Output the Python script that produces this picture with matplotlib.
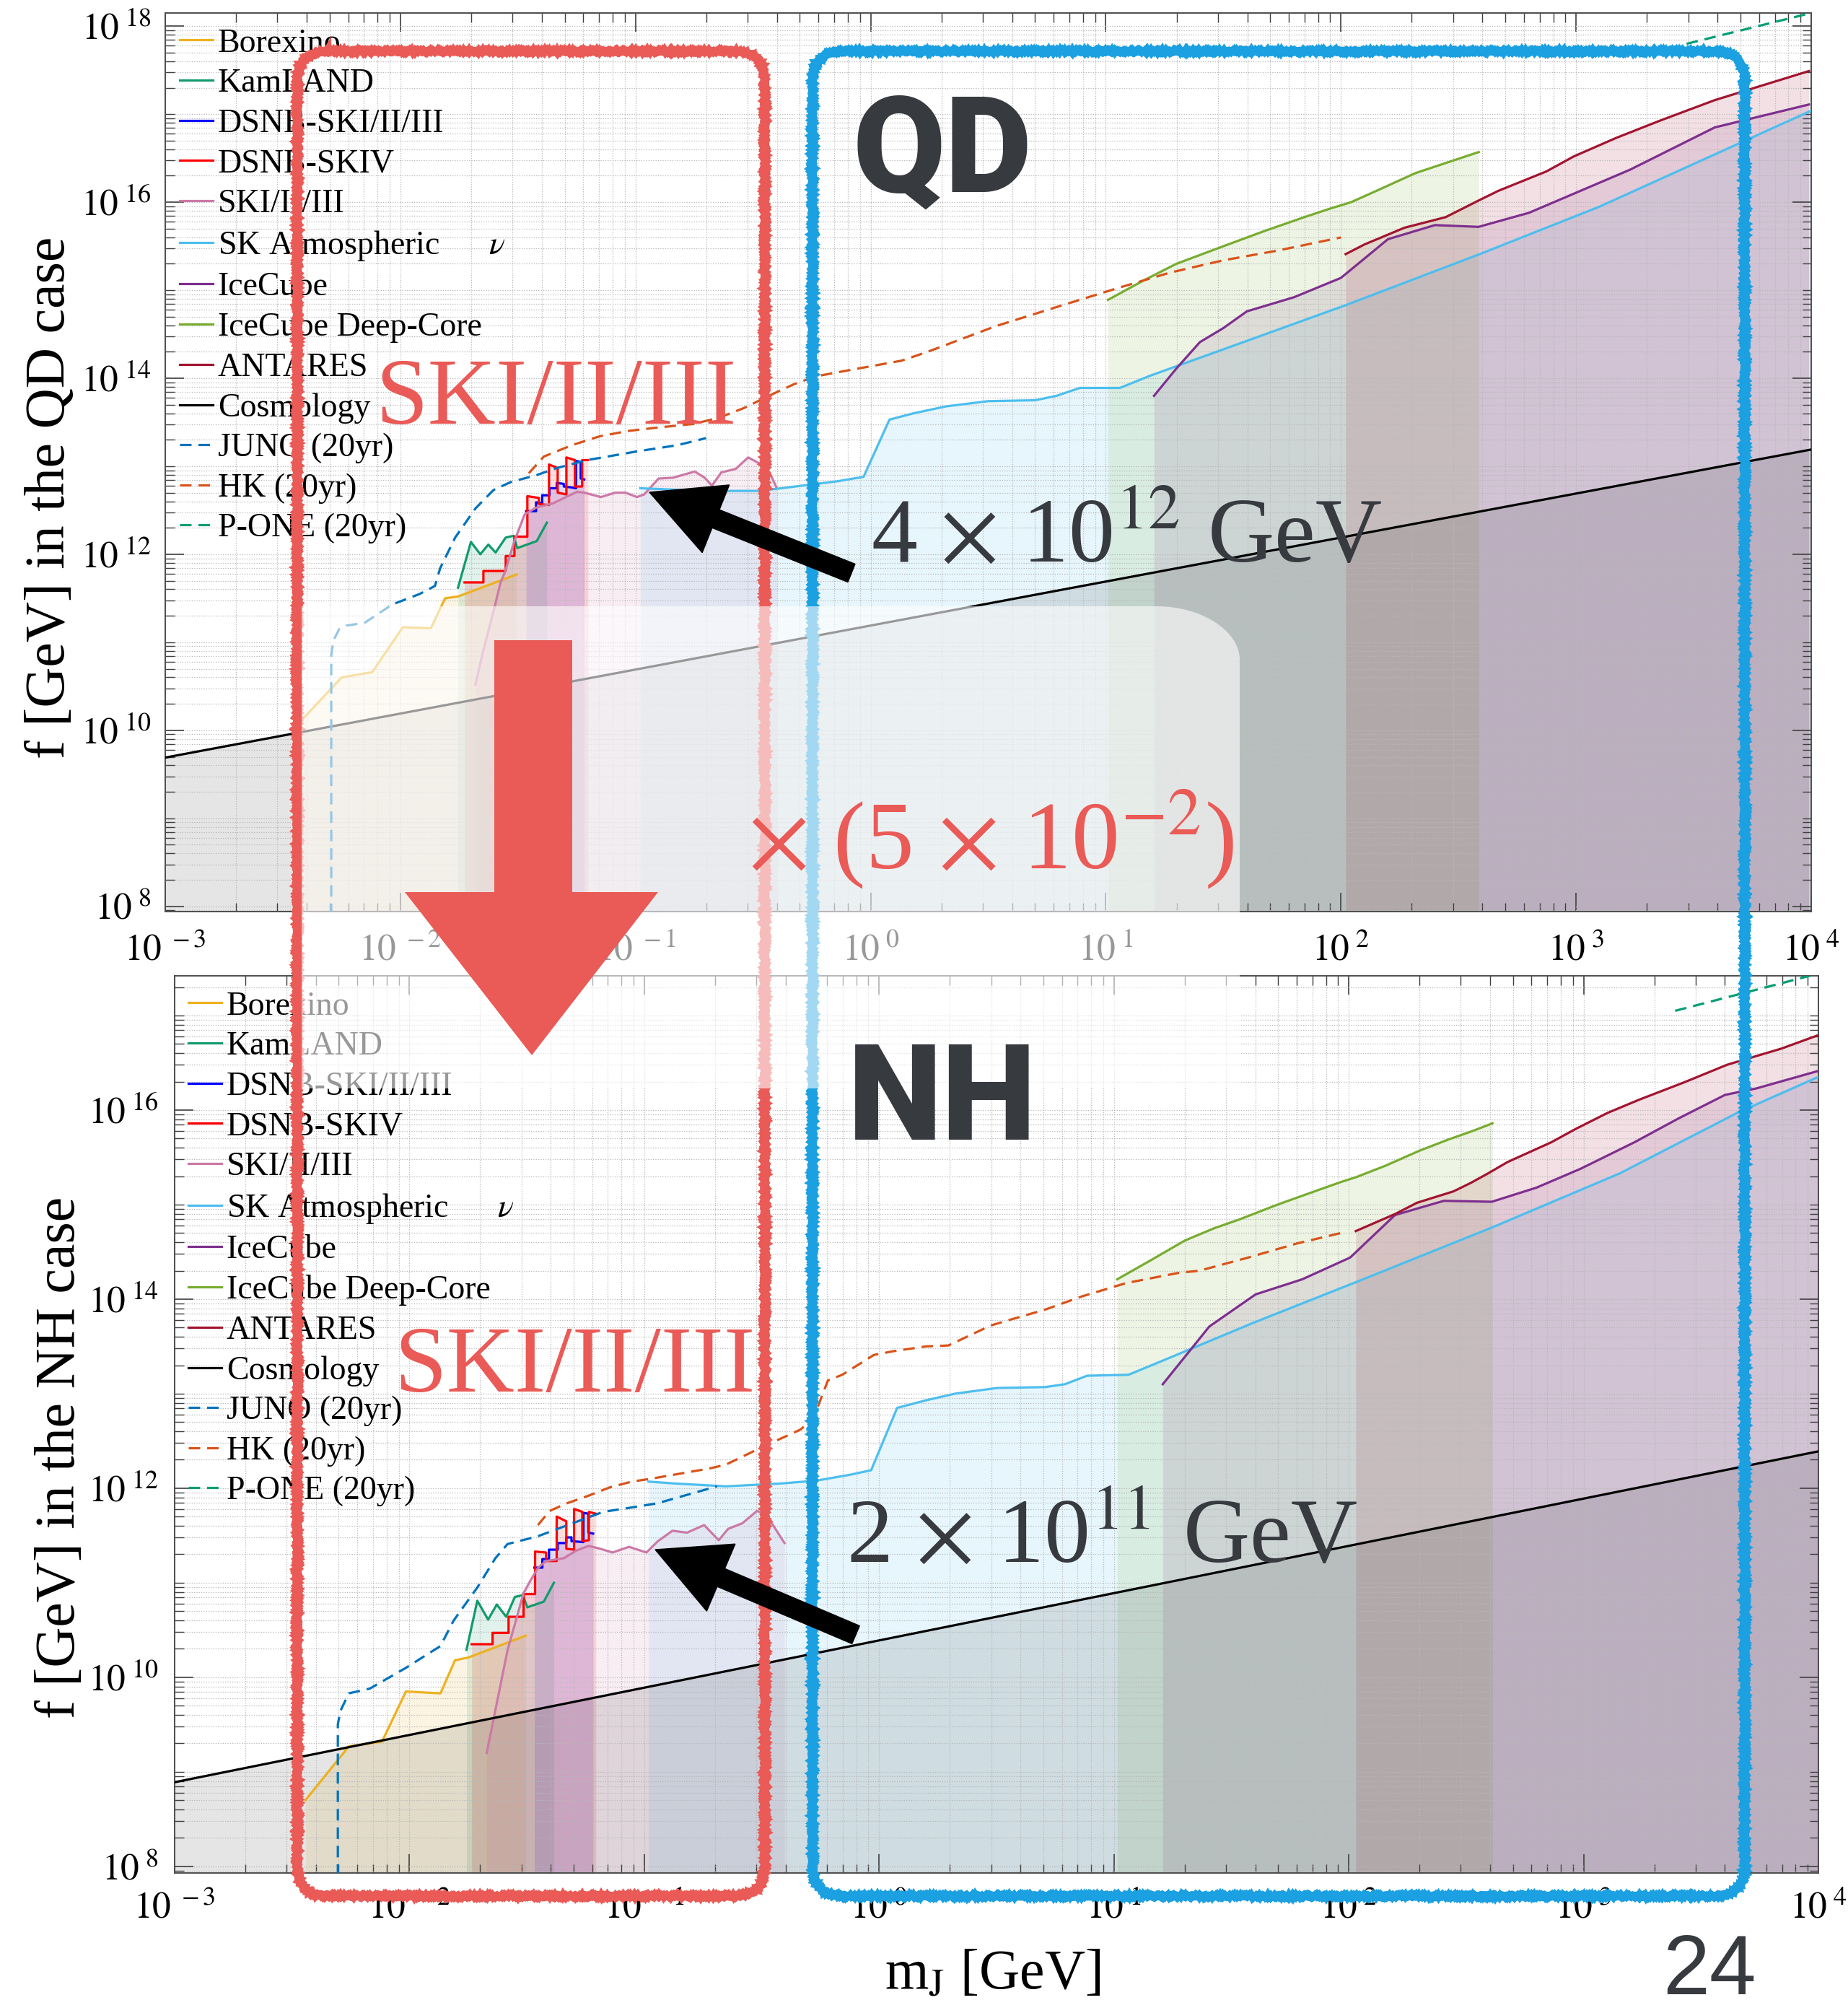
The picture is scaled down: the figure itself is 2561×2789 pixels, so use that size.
"""
Bounds on the decay constant f vs m_J, QD (top) and NH (bottom) cases, slide version.
"""
import numpy as np
import matplotlib.pyplot as plt
from matplotlib.patches import FancyBboxPatch, Polygon, FancyArrow, PathPatch
from matplotlib.path import Path
from matplotlib.transforms import Affine2D
from matplotlib.ticker import FixedLocator, FuncFormatter, NullFormatter

W, H = 2561, 2789

# ---------------------------------------------------------------------------
# data: log10(m_J / GeV) and log10(f / GeV)
# ---------------------------------------------------------------------------
# QD case (top panel)
borexino_qd_m = [-2.45, -2.25, -2.12, -1.99, -1.87, -1.81, -1.755, -1.506]
borexino_qd_f = [10.03, 10.60, 10.66, 11.17, 11.16, 11.50, 11.52, 11.77]
kamland_qd_m = [-1.755, -1.70, -1.66, -1.626, -1.595, -1.552, -1.518, -1.503, -1.42, -1.377]
kamland_qd_f = [11.62, 12.14, 12.00, 12.11, 12.02, 12.19, 12.21, 12.07, 12.15, 12.36]
dsnb123_qd_m = [-1.465, -1.423, -1.423, -1.397, -1.397, -1.366, -1.366, -1.335, -1.335, -1.305,
                -1.305, -1.274, -1.253, -1.253, -1.233, -1.233, -1.218]
dsnb123_qd_f = [12.49, 12.49, 12.59, 12.58, 12.67, 12.67, 12.75, 12.75, 12.81, 12.80,
                12.77, 12.76, 12.75, 13.06, 13.05, 12.86, 12.85]
dsnb4_qd_m = [-1.727, -1.647, -1.647, -1.552, -1.552, -1.515, -1.515, -1.46, -1.46, -1.411, -1.411,
              -1.368, -1.368, -1.331, -1.331, -1.294, -1.294, -1.258, -1.258, -1.227, -1.227, -1.202]
dsnb4_qd_f = [11.68, 11.68, 11.81, 11.81, 11.98, 11.98, 12.20, 12.20, 12.66, 12.64, 12.57,
              12.56, 13.02, 12.98, 12.70, 12.68, 13.10, 13.07, 12.77, 12.77, 13.07, 13.07]
ski_qd_m = [-1.681, -1.647, -1.604, -1.574, -1.555, -1.515, -1.472, -1.423, -1.35, -1.288, -1.248,
            -1.218, -1.147, -1.086, -1.043, -0.994, -0.963, -0.902, -0.84, -0.748, -0.706, -0.675,
            -0.635, -0.574, -0.521, -0.472, -0.43, -0.399]
ski_qd_f = [10.52, 10.91, 11.35, 11.68, 11.80, 12.15, 12.45, 12.53, 12.58, 12.66, 12.71,
            12.70, 12.65, 12.70, 12.70, 12.65, 12.68, 12.86, 12.87, 12.94, 12.87, 12.78,
            12.93, 12.97, 13.10, 13.03, 12.93, 12.75]
skatm_qd_m = [-0.98, -0.70, -0.48, -0.38, -0.26, -0.14, -0.03, 0.08, 0.18, 0.32, 0.50, 0.70,
              0.79, 0.89, 1.06, 1.19, 1.45, 2.02, 2.59, 3.10, 4.0]
skatm_qd_f = [12.75, 12.72, 12.72, 12.75, 12.79, 12.83, 12.88, 13.53, 13.60, 13.68, 13.74, 13.75,
              13.80, 13.89, 13.89, 14.03, 14.28, 14.83, 15.41, 15.95, 17.04]
icecube_qd_m = [1.205, 1.30, 1.40, 1.50, 1.60, 1.80, 2.0, 2.20, 2.40, 2.585, 2.80, 3.23, 3.59, 3.99]
icecube_qd_f = [13.80, 14.11, 14.41, 14.57, 14.76, 14.92, 15.14, 15.58, 15.74, 15.72, 15.88, 16.37,
                16.85, 17.11]
deepcore_qd_m = [1.009, 1.16, 1.30, 1.50, 1.672, 1.844, 1.957, 2.043, 2.16, 2.316, 2.586]
deepcore_qd_f = [14.89, 15.11, 15.30, 15.50, 15.67, 15.83, 15.93, 16.00, 16.14, 16.33, 16.57]
antares_qd_m = [2.02, 2.10, 2.27, 2.445, 2.586, 2.67, 2.874, 2.99, 3.17, 3.36, 3.59, 3.99]
antares_qd_f = [15.41, 15.52, 15.71, 15.83, 16.02, 16.13, 16.35, 16.52, 16.73, 16.93, 17.16, 17.49]
cosmo_qd_m = [-3.0, 4.0]
cosmo_qd_f = [9.69, 13.19]
juno_qd_m = [-2.294, -2.294, -2.285, -2.26, -2.23, -2.153, -2.034, -1.917, -1.853, -1.831, -1.767,
             -1.681, -1.604, -1.531, -1.42, -1.334, -1.206, -1.12, -0.991, -0.82, -0.70]
juno_qd_f = [7.9, 10.85, 11.02, 11.15, 11.19, 11.22, 11.43, 11.55, 11.64, 11.84, 12.19,
             12.52, 12.73, 12.82, 12.90, 12.98, 13.07, 13.11, 13.17, 13.24, 13.32]
hk_qd_m = [-1.454, -1.39, -1.27, -1.153, -1.034, -0.905, -0.755, -0.647, -0.54, -0.433, -0.328,
           -0.236, -0.074, 0.132, 0.242, 0.53, 0.816, 1.058, 1.273, 1.50, 1.73, 2.0]
hk_qd_f = [12.92, 13.11, 13.24, 13.34, 13.40, 13.44, 13.48, 13.55, 13.66, 13.80, 13.93,
           14.02, 14.10, 14.20, 14.30, 14.59, 14.83, 15.03, 15.20, 15.34, 15.45, 15.60]
pone_qd_m = [3.47, 4.0]
pone_qd_f = [17.80, 18.15]

# NH case (bottom panel)
borexino_nh_m = [-2.443, -2.258, -2.117, -2.015, -1.868, -1.806, -1.748, -1.505]
borexino_nh_f = [8.70, 9.27, 9.32, 9.85, 9.83, 10.18, 10.21, 10.44]
kamland_nh_m = [-1.757, -1.711, -1.665, -1.628, -1.588, -1.551, -1.517, -1.498, -1.428, -1.385]
kamland_nh_f = [10.29, 10.81, 10.61, 10.77, 10.64, 10.85, 10.87, 10.74, 10.80, 11.00]
dsnb123_nh_m = [-1.468, -1.434, -1.434, -1.406, -1.406, -1.369, -1.369, -1.332, -1.332, -1.31,
                -1.31, -1.259, -1.259, -1.238, -1.238, -1.218]
dsnb123_nh_f = [11.16, 11.16, 11.25, 11.25, 11.35, 11.35, 11.42, 11.42, 11.48, 11.48,
                11.44, 11.43, 11.74, 11.73, 11.53, 11.52]
dsnb4_nh_m = [-1.735, -1.646, -1.646, -1.578, -1.578, -1.514, -1.514, -1.465, -1.465, -1.418, -1.418,
              -1.373, -1.373, -1.332, -1.332, -1.299, -1.299, -1.264, -1.264, -1.236, -1.236, -1.206]
dsnb4_nh_f = [10.35, 10.35, 10.47, 10.47, 10.64, 10.64, 10.88, 10.88, 11.33, 11.32, 11.23,
              11.23, 11.70, 11.65, 11.36, 11.35, 11.78, 11.75, 11.44, 11.45, 11.75, 11.73]
ski_nh_m = [-1.671, -1.582, -1.514, -1.483, -1.452, -1.418, -1.342, -1.29, -1.237, -1.188, -1.135,
            -1.065, -0.991, -0.942, -0.88, -0.818, -0.745, -0.683, -0.643, -0.582, -0.52, -0.48,
            -0.403]
ski_nh_f = [9.20, 10.29, 10.89, 11.03, 11.16, 11.23, 11.26, 11.34, 11.39, 11.36, 11.32,
            11.38, 11.32, 11.44, 11.55, 11.53, 11.61, 11.45, 11.57, 11.63, 11.76, 11.72,
            11.42]
skatm_nh_m = [-0.982, -0.871, -0.652, -0.418, -0.268, -0.129, -0.034, 0.077, 0.2, 0.323, 0.502,
              0.708, 0.791, 0.886, 1.062, 1.218, 1.594, 2.031, 2.612, 3.154, 3.654, 4.008]
skatm_nh_f = [12.07, 12.05, 12.02, 12.05, 12.08, 12.14, 12.19, 12.85, 12.93, 13.00, 13.06,
              13.07, 13.10, 13.19, 13.20, 13.36, 13.75, 14.18, 14.76, 15.33, 15.97, 16.36]
icecube_nh_m = [1.208, 1.406, 1.603, 1.802, 2.006, 2.197, 2.405, 2.609, 2.8, 2.988, 3.217, 3.403,
                3.602, 3.737, 4.008]
icecube_nh_f = [13.10, 13.71, 14.05, 14.21, 14.44, 14.89, 15.04, 15.03, 15.18, 15.38, 15.66, 15.91,
                16.16, 16.23, 16.42]
deepcore_nh_m = [1.014, 1.156, 1.302, 1.427, 1.531, 1.697, 1.843, 1.968, 2.031, 2.155, 2.301,
                 2.426, 2.529, 2.612]
deepcore_nh_f = [14.21, 14.41, 14.62, 14.75, 14.84, 15.00, 15.13, 15.24, 15.29, 15.41, 15.57,
                 15.69, 15.78, 15.86]
antares_nh_m = [2.03, 2.197, 2.291, 2.446, 2.52, 2.593, 2.676, 2.863, 2.966, 3.102, 3.237, 3.425,
                3.612, 3.842, 4.008]
antares_nh_f = [14.72, 14.90, 15.02, 15.14, 15.23, 15.33, 15.45, 15.66, 15.80, 15.97, 16.11, 16.29,
                16.48, 16.65, 16.80]
cosmo_nh_m = [-3.0, 4.0]
cosmo_nh_f = [8.89, 12.39]
juno_nh_m = [-2.305, -2.305, -2.295, -2.258, -2.169, -2.015, -1.926, -1.868, -1.812, -1.711,
             -1.634, -1.582, -1.455, -1.326, -1.175, -1.07, -0.945, -0.69]
juno_nh_f = [7.9, 9.5, 9.64, 9.83, 9.88, 10.10, 10.24, 10.33, 10.60, 10.95,
             11.26, 11.41, 11.49, 11.61, 11.75, 11.79, 11.84, 12.02]
hk_nh_m = [-1.453, -1.403, -1.33, -1.238, -1.146, -1.053, -0.972, -0.72, -0.652, -0.502, -0.335,
           -0.28, -0.218, -0.157, -0.022, 0.062, 0.2, 0.295, 0.338, 0.474, 0.569, 0.708, 0.865,
           1.052, 1.28, 1.363, 1.572, 1.781, 1.968]
hk_nh_f = [11.61, 11.76, 11.84, 11.92, 12.01, 12.07, 12.10, 12.21, 12.25, 12.43, 12.62,
           12.74, 13.14, 13.20, 13.41, 13.45, 13.50, 13.51, 13.56, 13.72, 13.79, 13.89, 14.03,
           14.17, 14.28, 14.30, 14.44, 14.59, 14.70]
pone_nh_m = [3.39, 4.01]
pone_nh_f = [17.05, 17.45]

labels = ['Borexino', 'KamLAND', 'DSNB-SKI/II/III', 'DSNB-SKIV', 'SKI/II/III',
          'SK Atmospheric      $\\nu$', 'IceCube', 'IceCube Deep-Core', 'ANTARES', 'Cosmology',
          'JUNO (20yr)', 'HK (20yr)', 'P-ONE (20yr)']

curves_qd = [(borexino_qd_m, borexino_qd_f), (kamland_qd_m, kamland_qd_f),
             (dsnb123_qd_m, dsnb123_qd_f), (dsnb4_qd_m, dsnb4_qd_f), (ski_qd_m, ski_qd_f),
             (skatm_qd_m, skatm_qd_f), (icecube_qd_m, icecube_qd_f), (deepcore_qd_m, deepcore_qd_f),
             (antares_qd_m, antares_qd_f), (cosmo_qd_m, cosmo_qd_f), (juno_qd_m, juno_qd_f),
             (hk_qd_m, hk_qd_f), (pone_qd_m, pone_qd_f)]
curves_nh = [(borexino_nh_m, borexino_nh_f), (kamland_nh_m, kamland_nh_f),
             (dsnb123_nh_m, dsnb123_nh_f), (dsnb4_nh_m, dsnb4_nh_f), (ski_nh_m, ski_nh_f),
             (skatm_nh_m, skatm_nh_f), (icecube_nh_m, icecube_nh_f), (deepcore_nh_m, deepcore_nh_f),
             (antares_nh_m, antares_nh_f), (cosmo_nh_m, cosmo_nh_f), (juno_nh_m, juno_nh_f),
             (hk_nh_m, hk_nh_f), (pone_nh_m, pone_nh_f)]

colors = ['#EDB120', '#129B6C', '#0000FF', '#FF0000', '#CC79A7', '#4DBEEE', '#7E2F8E',
          '#77AC30', '#A2142F', '#000000', '#0072BD', '#D95319', '#009E73']
dashed = [False] * 10 + [True] * 3

RED = '#EA5A56'
BLUE = '#1BA0E2'
CHARCOAL = '#373A3F'


def pow_label(v, pos):
    return r'$10^{\ %d}$' % int(round(np.log10(v)))


def draw_panel(ax, curves, ylim, anchor, xpad, ypad):
    handles = []
    for (lm, lf), color, dash in zip(curves, colors, dashed):
        m = 10.0 ** np.array(lm)
        f = 10.0 ** np.array(lf)
        if not dash:
            a = 0.10 if color == '#000000' else 0.13
            ax.fill_between(m, f, 1e5, color=color, alpha=a, linewidth=0, zorder=1)
        ls = (0, (5, 3)) if dash else '-'
        line, = ax.plot(m, f, color=color, linestyle=ls, linewidth=2.3, zorder=3)
        handles.append(line)

    ax.set_xscale('log')
    ax.set_yscale('log')
    ax.set_xlim(1e-3, 1e4)
    ax.set_ylim(*ylim)

    ax.xaxis.set_major_locator(FixedLocator(10.0 ** np.arange(-3, 5)))
    ax.xaxis.set_minor_locator(FixedLocator([k * 10.0 ** e for e in range(-3, 4) for k in range(2, 10)]))
    ax.yaxis.set_major_locator(FixedLocator(10.0 ** np.arange(8, 19, 2)))
    ax.yaxis.set_minor_locator(FixedLocator([k * 10.0 ** e for e in range(7, 19) for k in range(1, 10)
                                             if not (k == 1 and e % 2 == 0)]))
    ax.xaxis.set_major_formatter(FuncFormatter(pow_label))
    ax.yaxis.set_major_formatter(FuncFormatter(pow_label))
    ax.xaxis.set_minor_formatter(NullFormatter())
    ax.yaxis.set_minor_formatter(NullFormatter())

    ax.tick_params(which='both', direction='in', top=True, right=True, colors='0.25', labelcolor='k')
    ax.tick_params(which='major', length=19, width=1.2, labelsize=37)
    ax.tick_params(which='minor', length=9, width=1.0)
    ax.tick_params(axis='x', pad=xpad)
    ax.tick_params(axis='y', pad=ypad)
    ax.grid(True, which='both', linestyle=':', color='0.72', linewidth=0.9)
    for sp in ax.spines.values():
        sp.set_color('0.3')
        sp.set_linewidth(1.4)

    ax.legend(handles, labels, loc='upper left', bbox_to_anchor=anchor, frameon=False,
              fontsize=33, handlelength=1.0, handletextpad=0.15, labelspacing=0.285,
              borderaxespad=0, borderpad=0)


def main():
    plt.rcParams['font.family'] = ['Liberation Serif', 'DejaVu Serif']
    plt.rcParams['mathtext.fontset'] = 'stix'

    fig = plt.figure(figsize=(W / 100, H / 100), dpi=100)
    px = Affine2D().scale(1.0 / W, -1.0 / H).translate(0, 1) + fig.transFigure

    ax_qd = fig.add_axes([229 / W, 1 - 1263 / H, 2281 / W, 1245 / H])
    ax_nh = fig.add_axes([242 / W, 1 - 2595 / H, 2278 / W, 1243 / H])
    draw_panel(ax_qd, curves_qd, (10 ** 7.94, 10 ** 18.15), (20 / 2281, 1 - 21 / 1245), 22, 14)
    draw_panel(ax_nh, curves_nh, (10 ** 7.93, 10 ** 17.42), (19 / 2278, 1 - 21 / 1243), 19, 16)

    # axis titles
    fig.text(70, 689, 'f [GeV] in the QD case', transform=px, rotation=90, fontsize=56,
             ha='center', va='center')
    fig.text(84, 2019, 'f [GeV] in the NH case', transform=px, rotation=90, fontsize=56,
             ha='center', va='center')
    fig.text(1376, 2755, r'm$_{\rm J}$ [GeV]', transform=px, fontsize=56, ha='center', va='baseline')

    # hand-drawn highlight boxes
    for x0, x1, col in [(412, 1060, RED), (1126, 2418, BLUE)]:
        box = FancyBboxPatch((x0, 71), x1 - x0, 2627 - 71, boxstyle='round,pad=0,rounding_size=42',
                             transform=px, fill=False, edgecolor=col, linewidth=8, zorder=0.5)
        box.set_sketch_params(scale=0.9, length=3, randomness=1.5)
        fig.patches.append(box)

    # translucent white cover with one rounded corner
    verts = [(418, 1508), (418, 840), (1603, 840), (1665, 840), (1718, 874), (1718, 914),
             (1718, 1508), (418, 1508)]
    codes = [Path.MOVETO, Path.LINETO, Path.LINETO, Path.CURVE4, Path.CURVE4, Path.CURVE4,
             Path.LINETO, Path.CLOSEPOLY]
    fig.patches.append(PathPatch(Path(verts, codes), transform=px, facecolor='white',
                                 edgecolor='none', alpha=0.6, zorder=1.5))

    # big red arrow
    fig.patches.append(Polygon([(685, 887), (793, 887), (793, 1236), (912, 1236), (737, 1462),
                                (561, 1236), (685, 1236)], closed=True, transform=px,
                               facecolor=RED, edgecolor='none', zorder=2))

    # black pointers
    for (x, y, dx, dy) in [(1180, 794, -280, -112), (1186, 2265, -278, -118)]:
        fig.patches.append(FancyArrow(x, y, dx, dy, width=27, head_width=101, head_length=99,
                                      length_includes_head=True, transform=px, color='k', zorder=2))

    # annotations
    fig.text(770, 587, 'SKI/II/III', transform=px, fontsize=94, color=RED, ha='center', va='baseline')
    fig.text(796, 1928, 'SKI/II/III', transform=px, fontsize=94, color=RED, ha='center', va='baseline')
    fig.text(1373, 1204, r'$\times$ (5 $\times$ 10$^{-2}$)', transform=px, fontsize=96, color=RED,
             ha='center', va='baseline')
    fig.text(1561, 778, r'4 $\times$ 10$^{12}$ GeV', transform=px, fontsize=92, color=CHARCOAL,
             ha='center', va='baseline')
    fig.text(1527, 2164, r'2 $\times$ 10$^{11}$ GeV', transform=px, fontsize=92, color=CHARCOAL,
             ha='center', va='baseline')
    for y, s in [(266, 'QD'), (1579, 'NH')]:
        fig.text(1306, y, s, transform=px, fontsize=134, color=CHARCOAL, family='Roboto',
                 fontweight='black', ha='center', va='baseline')
    fig.text(2369, 2787, '24', transform=px, fontsize=84, color=CHARCOAL, family='Liberation Sans',
             ha='center', va='bottom')

    fig.savefig('out.png', dpi=100)


if __name__ == '__main__':
    main()
